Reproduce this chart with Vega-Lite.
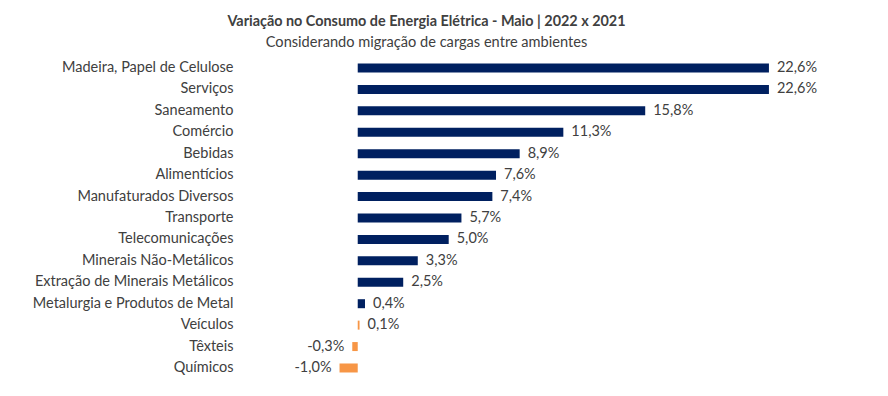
{
  "$schema": "https://vega.github.io/schema/vega-lite/v6.json",
  "autosize": {"type": "none"},
  "width": 615,
  "height": 321.4,
  "padding": {"left": 234, "top": 57.3, "right": 39, "bottom": 17.3},
  "background": "white",
  "config": {
    "view": {"stroke": null},
    "font": "Lato",
    "locale": {"number": {"decimal": ",", "thousands": ".", "grouping": [3], "currency": ["R$", ""], "minus": "-"}}
  },
  "title": {
    "text": "Variação no Consumo de Energia Elétrica - Maio | 2022 x 2021",
    "subtitle": "Considerando migração de cargas entre ambientes",
    "anchor": "middle",
    "frame": "group",
    "dx": -115,
    "offset": 7,
    "fontSize": 14.4,
    "fontWeight": "bold",
    "color": "#404040",
    "subtitleFontSize": 14.6,
    "subtitleColor": "#404040",
    "subtitlePadding": 5
  },
  "data": {
    "values": [
      {"setor": "Madeira, Papel de Celulose", "valor": 0.226, "grupo": "a"},
      {"setor": "Serviços", "valor": 0.226, "grupo": "a"},
      {"setor": "Saneamento", "valor": 0.158, "grupo": "a"},
      {"setor": "Comércio", "valor": 0.113, "grupo": "a"},
      {"setor": "Bebidas", "valor": 0.089, "grupo": "a"},
      {"setor": "Alimentícios", "valor": 0.076, "grupo": "a"},
      {"setor": "Manufaturados Diversos", "valor": 0.074, "grupo": "a"},
      {"setor": "Transporte", "valor": 0.057, "grupo": "a"},
      {"setor": "Telecomunicações", "valor": 0.050, "grupo": "a"},
      {"setor": "Minerais Não-Metálicos", "valor": 0.033, "grupo": "a"},
      {"setor": "Extração de Minerais Metálicos", "valor": 0.025, "grupo": "a"},
      {"setor": "Metalurgia e Produtos de Metal", "valor": 0.004, "grupo": "a"},
      {"setor": "Veículos", "valor": 0.001, "grupo": "b"},
      {"setor": "Têxteis", "valor": -0.003, "grupo": "b"},
      {"setor": "Químicos", "valor": -0.010, "grupo": "b"}
    ]
  },
  "encoding": {
    "y": {
      "field": "setor",
      "type": "nominal",
      "sort": null,
      "scale": {"paddingInner": 0.58, "paddingOuter": 0.29},
      "axis": {
        "title": null,
        "ticks": false,
        "domain": false,
        "labelFontSize": 14.5,
        "labelColor": "#404040",
        "labelPadding": 1,
        "labelLimit": 300
      }
    }
  },
  "layer": [
    {
      "mark": {"type": "bar"},
      "encoding": {
        "x": {
          "field": "valor",
          "type": "quantitative",
          "scale": {"domain": [-0.068, 0.27], "nice": false},
          "axis": null
        },
        "color": {
          "field": "grupo",
          "type": "nominal",
          "scale": {"domain": ["a", "b"], "range": ["#002060", "#F79646"]},
          "legend": null
        }
      }
    },
    {
      "mark": {"type": "rule", "color": "#D0D0D0", "strokeWidth": 1},
      "encoding": {"x": {"datum": 0}}
    },
    {
      "transform": [{"filter": "datum.valor >= 0"}],
      "mark": {"type": "text", "align": "left", "dx": 8, "fontSize": 14.5, "color": "#404040"},
      "encoding": {
        "x": {"field": "valor", "type": "quantitative"},
        "text": {"field": "valor", "type": "quantitative", "format": ".1%"}
      }
    },
    {
      "transform": [{"filter": "datum.valor < 0"}],
      "mark": {"type": "text", "align": "right", "dx": -8, "fontSize": 14.5, "color": "#404040"},
      "encoding": {
        "x": {"field": "valor", "type": "quantitative"},
        "text": {"field": "valor", "type": "quantitative", "format": ".1%"}
      }
    }
  ]
}
